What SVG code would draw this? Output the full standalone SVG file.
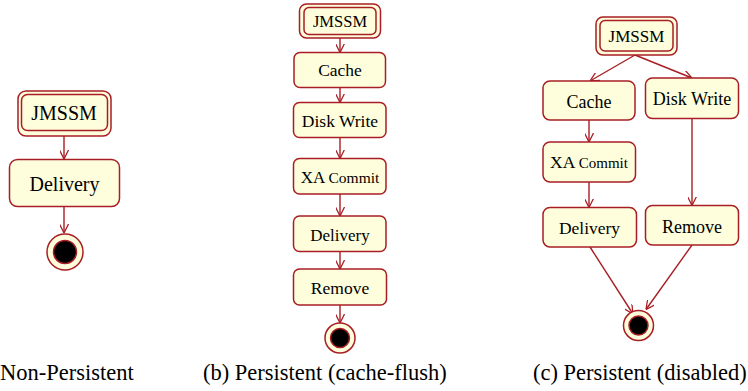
<svg xmlns="http://www.w3.org/2000/svg" width="748" height="391" viewBox="0 0 748 391">
<defs>
<style>
.box{fill:#FEFEDC;stroke:#A81E24;stroke-width:1.5}
.t{fill:#000;text-anchor:middle}
.e{stroke:#A81E24;stroke-width:1.4;fill:none}
.cap{font-size:22.5px;fill:#000}
.ring{fill:#FEFEDC;stroke:#A81E24;stroke-width:1.5}
.dot{fill:#000;stroke:#A81E24;stroke-width:1.5}
</style>
<marker id="arr" viewBox="0 0 10 10" refX="10" refY="5" markerWidth="9" markerHeight="9" markerUnits="userSpaceOnUse" orient="auto">
<path d="M0,0 L10,5 L0,10" fill="none" stroke="#A81E24" stroke-width="1.4"/>
</marker>
</defs>
<rect width="748" height="391" fill="#fff"/>

<g id="connectors">
<line class="e" x1="64" y1="136" x2="64" y2="159" marker-end="url(#arr)"/>
<line class="e" x1="64" y1="207" x2="64" y2="233" marker-end="url(#arr)"/>

<line class="e" x1="340" y1="38" x2="340" y2="52.5" marker-end="url(#arr)"/>
<line class="e" x1="340" y1="87.5" x2="340" y2="102.5" marker-end="url(#arr)"/>
<line class="e" x1="340" y1="137.5" x2="340" y2="158.5" marker-end="url(#arr)"/>
<line class="e" x1="340" y1="194" x2="340" y2="216" marker-end="url(#arr)"/>
<line class="e" x1="340" y1="251.5" x2="340" y2="269" marker-end="url(#arr)"/>
<line class="e" x1="340" y1="305" x2="340" y2="323" marker-end="url(#arr)"/>

<line class="e" x1="635" y1="55" x2="590" y2="81" marker-end="url(#arr)"/>
<line class="e" x1="635" y1="55" x2="692" y2="78" marker-end="url(#arr)"/>
<line class="e" x1="589" y1="120" x2="589" y2="142" marker-end="url(#arr)"/>
<line class="e" x1="589" y1="182" x2="589" y2="207.5" marker-end="url(#arr)"/>
<line class="e" x1="692" y1="118.5" x2="692" y2="205.5" marker-end="url(#arr)"/>
<line class="e" x1="590" y1="247" x2="633" y2="314" marker-end="url(#arr)"/>
<line class="e" x1="692" y1="245" x2="646" y2="309.5" marker-end="url(#arr)"/>
</g>

<g font-family="'Liberation Serif','DejaVu Serif',serif">
<g id="a_jmssm">
<rect class="box" x="18" y="91" width="93" height="45" rx="8"/>
<rect class="box" x="21.5" y="94.5" width="86" height="36" rx="6"/>
<text class="t" x="64" y="120" font-size="20">JMSSM</text>
</g>
<g id="a_delivery">
<rect class="box" x="9.5" y="159.5" width="110" height="47" rx="8"/>
<text class="t" x="64.5" y="191" font-size="20">Delivery</text>
</g>
<g id="a_end">
<circle class="ring" cx="65" cy="252" r="18"/>
<circle class="dot" cx="65" cy="252" r="11.5"/>
</g>

<g id="b_jmssm">
<rect class="box" x="299.5" y="4" width="81" height="34" rx="7"/>
<rect class="box" x="304" y="7.5" width="72" height="27" rx="5"/>
<text class="t" x="340" y="27" font-size="16.5">JMSSM</text>
</g>
<g id="b_cache">
<rect class="box" x="294" y="52.5" width="91.5" height="35" rx="6"/>
<text class="t" x="340" y="76" font-size="17.5">Cache</text>
</g>
<g id="b_diskwrite">
<rect class="box" x="293.5" y="102.5" width="92.5" height="35" rx="6"/>
<text class="t" x="340" y="126.5" font-size="17.5">Disk Write</text>
</g>
<g id="b_xacommit">
<rect class="box" x="293.5" y="158.5" width="92.5" height="35.5" rx="6"/>
<text class="t" x="340" y="182.5" font-size="17">XA <tspan font-size="15.5">Commit</tspan></text>
</g>
<g id="b_delivery">
<rect class="box" x="293.5" y="216" width="92.5" height="35.5" rx="6"/>
<text class="t" x="340" y="240.5" font-size="17">Delivery</text>
</g>
<g id="b_remove">
<rect class="box" x="293.5" y="269" width="93" height="36" rx="6"/>
<text class="t" x="340" y="294" font-size="17.5">Remove</text>
</g>
<g id="b_end">
<circle class="ring" cx="340" cy="338" r="15"/>
<circle class="dot" cx="340" cy="338" r="9.5"/>
</g>

<g id="c_jmssm">
<rect class="box" x="596" y="17" width="81" height="38" rx="7"/>
<rect class="box" x="600" y="20.5" width="73" height="30.5" rx="5"/>
<text class="t" x="636.5" y="41.5" font-size="17">JMSSM</text>
</g>
<g id="c_cache">
<rect class="box" x="543" y="81" width="92" height="39" rx="7"/>
<text class="t" x="589" y="107.5" font-size="18">Cache</text>
</g>
<g id="c_diskwrite">
<rect class="box" x="645.5" y="78" width="93" height="40.5" rx="7"/>
<text class="t" x="692" y="105" font-size="18">Disk Write</text>
</g>
<g id="c_xacommit">
<rect class="box" x="543" y="142" width="92.5" height="40" rx="7"/>
<text class="t" x="589" y="168" font-size="17.5">XA <tspan font-size="15">Commit</tspan></text>
</g>
<g id="c_delivery">
<rect class="box" x="543" y="207.5" width="93.5" height="39.5" rx="7"/>
<text class="t" x="589.5" y="234" font-size="17.5">Delivery</text>
</g>
<g id="c_remove">
<rect class="box" x="645.5" y="205.5" width="93" height="39.5" rx="7"/>
<text class="t" x="692" y="232.5" font-size="18">Remove</text>
</g>
<g id="c_end">
<circle class="ring" cx="638.5" cy="325.5" r="15"/>
<circle class="dot" cx="638.5" cy="325.5" r="9.5"/>
</g>

<text class="cap" x="0" y="380">Non-Persistent</text>
<text class="cap" x="203" y="380">(b) Persistent (cache-flush)</text>
<text class="cap" x="533" y="380">(c) Persistent (disabled)</text>
</g>
</svg>
